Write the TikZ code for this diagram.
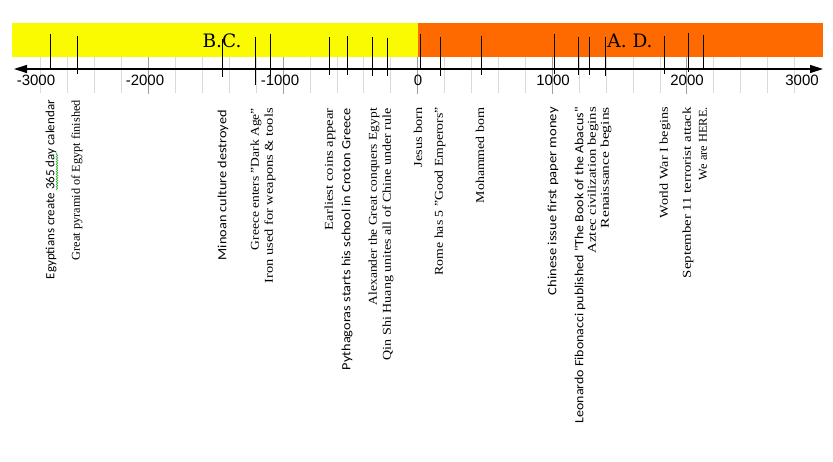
\documentclass[tikz,border=0pt]{standalone}
\usepackage{fontspec}
\setmainfont{Liberation Serif}
\newfontfamily\calib{Carlito}
\newfontfamily\axfont{Liberation Sans}
\newfontfamily\tw{DejaVu Serif}
\usetikzlibrary{arrows.meta,decorations.pathmorphing}
\definecolor{barY}{RGB}{250,250,0}
\definecolor{barO}{RGB}{255,106,0}
\definecolor{gridMinor}{RGB}{218,218,218}
\definecolor{gridMajor}{RGB}{160,160,160}
\definecolor{spellG}{RGB}{40,170,40}
\newcommand{\fitlen}[2]{\resizebox{#1pt}{\height}{#2}}
\tikzset{
  evline/.style={black,line width=0.9pt},
  minorgrid/.style={gridMinor,line width=0.8pt},
  majorgrid/.style={gridMajor,line width=0.9pt},
  evlabel/.style={rotate=90,anchor=east,inner sep=0pt,font=\fontsize{12}{14}\selectfont},
  evsans/.style={evlabel,font=\calib\fontsize{12.5}{14}\selectfont},
  yearlab/.style={font=\axfont\fontsize{15}{17}\selectfont,inner sep=0pt},
  eralab/.style={font=\tw\fontsize{18.5}{21}\selectfont,inner sep=0pt}
}
\begin{document}
\begin{tikzpicture}[x=1pt,y=-1pt]
\useasboundingbox (0,0) rectangle (833,462);
% bars
\fill[barY] (12,23) rectangle (418,57);
\fill[barO] (418,23) rectangle (823,57);
\node[eralab] (bc) at (222,41) {B.C.};
\node[eralab] (ad) at (630,41) {A. D.};
% grid
\foreach \yr in {-2800,-2600,-2400,-2200,-1800,-1600,-1400,-1200,-800,-600,-400,-200,200,400,600,800,1200,1400,1600,1800,2200,2400,2600,2800}
  \draw[minorgrid] ({417.7+0.1346*\yr},57) -- ({417.7+0.1346*\yr},93);
\foreach \yr in {-2000,-1000,0,1000,2000}
  \draw[majorgrid] ({417.7+0.1346*\yr},57) -- ({417.7+0.1346*\yr},94);
% axis
\coordinate (axL) at (14,69);
\coordinate (axR) at (823,69);
\draw[line width=1.3pt,{Triangle[length=13pt,width=8pt]}-{Triangle[length=13pt,width=8pt]}] (axL) -- (axR);
% year labels
\node[yearlab] (ym3) at (36,80.5) {-3000};
\node[yearlab] (ym2) at (145,80.5) {-2000};
\node[yearlab] (ym1) at (280,80.5) {-1000};
\node[yearlab] (y0) at (418,80.5) {0};
\node[yearlab] (y1) at (553,80.5) {1000};
\node[yearlab] (y2) at (687,80.5) {2000};
\node[yearlab] (y3) at (802,80.5) {3000};
% event lines
\foreach \x/\a/\b in {50.7/34/69,77.3/36/74,222.3/39/77,255.3/37/85,270.3/34/76,329/37/75,347.7/36/75,372.7/37/76,387/38/76,420.7/34/69,440.7/37/76,481/36/75,554/34/74,578.3/37/75,589.7/37/75,605/37/76,664.7/36/74,688/33/72,703.3/35/70}
  \draw[evline] (\x,\a) -- (\x,\b);
% event labels
\node[evsans] (e1) at (51,100) {\fitlen{179}{Egyptians create 365 day calendar}};
\draw[spellG,line width=0.6pt,decorate,decoration={snake,amplitude=0.8pt,segment length=2.5pt}] (57,190) -- (57,153);
\node[evlabel] (e2) at (77,100) {\fitlen{160}{Great pyramid of Egypt finished}};
\node[evsans] (e3) at (223,110) {\fitlen{150}{Minoan culture destroyed}};
\node[evlabel] (e4) at (256,108) {\fitlen{142}{Greece enters "Dark Age"}};
\node[evlabel] (e5) at (270,108) {\fitlen{175}{Iron used for weapons \& tools}};
\node[evlabel] (e6) at (330,108) {\fitlen{122}{Earliest coins appear}};
\node[evsans] (e7) at (347,108) {\fitlen{262}{Pythagoras starts his school in Croton Greece}};
\node[evlabel] (e8) at (374,108) {\fitlen{197}{Alexander the Great conquers Egypt}};
\node[evlabel] (e9) at (388,108) {\fitlen{252}{Qin Shi Huang unites all of Chine under rule}};
\node[evlabel] (e10) at (418,107) {\fitlen{60}{Jesus born}};
\node[evlabel] (e11) at (440,107) {\fitlen{168}{Rome has 5 "Good Emperors"}};
\node[evlabel] (e12) at (480,107) {\fitlen{96}{Mohammed born}};
\node[evsans] (e13) at (553,107) {\fitlen{188}{Chinese issue first paper money}};
\node[evsans] (e14) at (580,107) {\fitlen{316}{Leonardo Fibonacci published "The Book of the Abacus"}};
\node[evlabel] (e15) at (593,107) {\fitlen{146}{Aztec civilization begins}};
\node[evlabel] (e16) at (606,107) {\fitlen{121}{Renaissance begins}};
\node[evlabel] (e17) at (665,107) {\fitlen{111}{World War I begins}};
\node[evlabel] (e18) at (688,107) {\fitlen{171}{September 11 terrorist attack}};
\node[evlabel] (e19) at (703,107) {\fitlen{73}{We are HERE.}};
\end{tikzpicture}
\end{document}
